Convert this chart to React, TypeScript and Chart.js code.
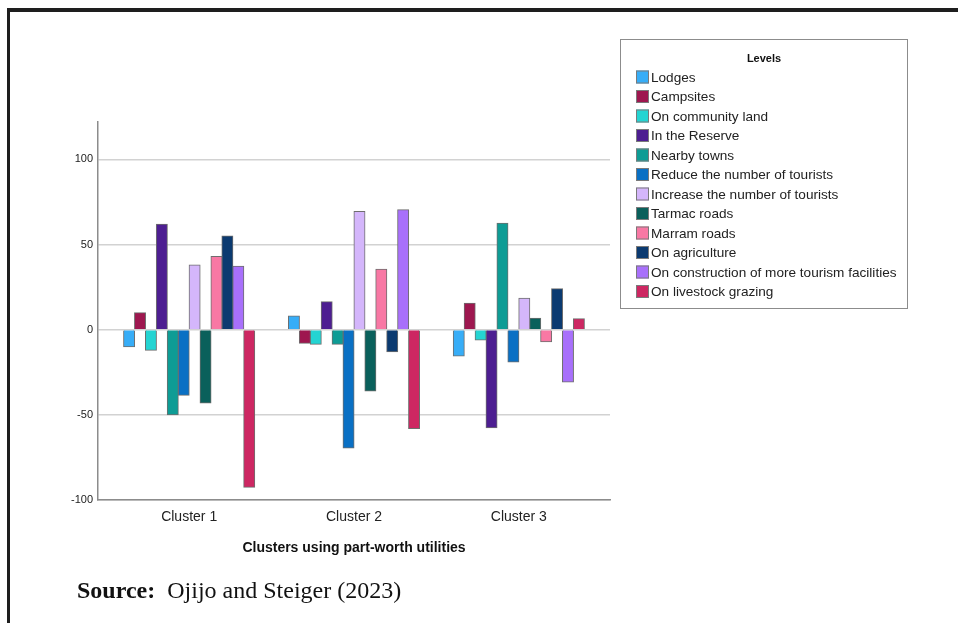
import Chart from 'chart.js/auto';
import { useEffect, useRef } from 'react';

const clusters = ['Cluster 1', 'Cluster 2', 'Cluster 3'];

const levels = [
  'Lodges',
  'Campsites',
  'On community land',
  'In the Reserve',
  'Nearby towns',
  'Reduce the number of tourists',
  'Increase the number of tourists',
  'Tarmac roads',
  'Marram roads',
  'On agriculture',
  'On construction of more tourism facilities',
  'On livestock grazing',
];

const levelColors = [
  '#37adf7',
  '#9e174f',
  '#24d4d2',
  '#4d1e91',
  '#0e9c95',
  '#0a70c4',
  '#d4b6fb',
  '#0a605b',
  '#f878a4',
  '#0b3a70',
  '#a870fb',
  '#cd2762',
];

// part-worth utilities per level, one value per cluster
const lodges = [-10, 8, -15.5];
const campsites = [10, -8, 15.5];
const communityLand = [-12, -8.5, -6];
const inReserve = [62, 16.5, -57.5];
const nearbyTowns = [-50, -8.5, 62.5];
const reduceTourists = [-38.5, -69.5, -19];
const increaseTourists = [38, 69.5, 18.5];
const tarmacRoads = [-43, -36, 6.8];
const marramRoads = [43, 35.5, -7];
const agriculture = [55, -13, 24];
const construction = [37.3, 70.5, -30.7];
const livestock = [-92.5, -58, 6.5];

const series = [
  lodges, campsites, communityLand, inReserve, nearbyTowns, reduceTourists,
  increaseTourists, tarmacRoads, marramRoads, agriculture, construction, livestock,
];

const yTicks = [-100, -50, 0, 50, 100];

const FONT = '"Liberation Sans", Arial, sans-serif';

// SPSS style boxed legend
const boxedLegend = {
  id: 'boxedLegend',
  afterDraw(chart: any) {
    const ctx = chart.ctx;
    ctx.save();
    ctx.strokeStyle = '#8c8c8c';
    ctx.lineWidth = 1;
    ctx.strokeRect(620.5, 39.5, 287, 269);

    ctx.fillStyle = '#111';
    ctx.font = 'bold 11px ' + FONT;
    ctx.textAlign = 'center';
    ctx.textBaseline = 'middle';
    ctx.fillText('Levels', 764, 58.5);

    ctx.font = '13.6px ' + FONT;
    ctx.textAlign = 'left';
    chart.data.datasets.forEach((ds: any, i: number) => {
      const y = 77 + i * 19.5;
      ctx.fillStyle = ds.backgroundColor;
      ctx.fillRect(636, y - 6.5, 13, 13);
      ctx.strokeStyle = '#7a7a7a';
      ctx.strokeRect(636.5, y - 6, 12, 12);
      ctx.fillStyle = '#222';
      ctx.fillText(ds.label, 651, y + 1);
    });
    ctx.restore();
  },
};

export default function App() {
  const chartRef = useRef<HTMLCanvasElement>(null);
  const chartInstanceRef = useRef<Chart | null>(null);

  useEffect(() => {
    if (!chartRef.current) return;
    chartInstanceRef.current?.destroy();

    chartInstanceRef.current = new Chart(chartRef.current, {
      type: 'bar',
      data: {
        datasets: levels.map((label, i) => ({
          label,
          data: series[i].map((y, x) => ({ x, y })),
          backgroundColor: levelColors[i],
          borderColor: '#6e6e6e',
          borderWidth: 1,
          inflateAmount: 0.5,
          categoryPercentage: 0.795,
          barPercentage: 1,
        })),
      },
      options: {
        animation: false,
        responsive: true,
        maintainAspectRatio: false,
        layout: { padding: { left: 0, top: 122, right: 348, bottom: 0 } },
        plugins: {
          legend: { display: false },
          tooltip: { enabled: false },
        },
        scales: {
          x: {
            type: 'linear',
            offset: false,
            min: -0.553,
            max: 2.553,
            afterBuildTicks: (scale: any) => {
              scale.ticks = clusters.map((_, i) => ({ value: i }));
            },
            afterFit: (scale: any) => {
              scale.height = 70;
            },
            grid: { display: false, drawTicks: false },
            border: { display: true, color: '#8c8c8c', width: 1.5 },
            ticks: {
              padding: 9,
              color: '#222',
              font: { family: FONT, size: 14 },
              callback: (value: any) => clusters[value],
            },
            title: {
              display: true,
              text: 'Clusters using part-worth utilities',
              color: '#111',
              font: { family: FONT, size: 14, weight: 'bold' },
              padding: { top: 0, bottom: 13 },
            },
          },
          y: {
            min: -100,
            max: 122,
            afterBuildTicks: (scale: any) => {
              scale.ticks = yTicks.map((value) => ({ value }));
            },
            afterFit: (scale: any) => {
              scale.width = 98;
            },
            grid: { color: '#d2d2d2', lineWidth: 1.5, drawTicks: false },
            border: { display: true, color: '#8c8c8c', width: 1.5 },
            ticks: {
              padding: 5,
              color: '#222',
              font: { family: FONT, size: 11 },
            },
          },
        },
      },
      plugins: [boxedLegend],
    });

    return () => {
      chartInstanceRef.current?.destroy();
    };
  }, []);

  return (
    <>
      <div
        style={{
          position: 'fixed',
          left: 7,
          top: 8,
          right: 0,
          bottom: 0,
          borderTop: '4px solid #1e1e1e',
          borderLeft: '3px solid #1e1e1e',
        }}
      />
      <div style={{ position: 'absolute', left: 0, top: 0, width: 958, height: 570 }}>
        <canvas ref={chartRef} />
      </div>
      <div
        style={{
          position: 'absolute',
          left: 77,
          top: 578,
          fontFamily: '"Liberation Serif", "Times New Roman", serif',
          fontSize: 24,
          lineHeight: 1,
          color: '#111',
          whiteSpace: 'pre',
        }}
      >
        <b>Source:</b>
        {'  Ojijo and Steiger (2023)'}
      </div>
    </>
  );
}
